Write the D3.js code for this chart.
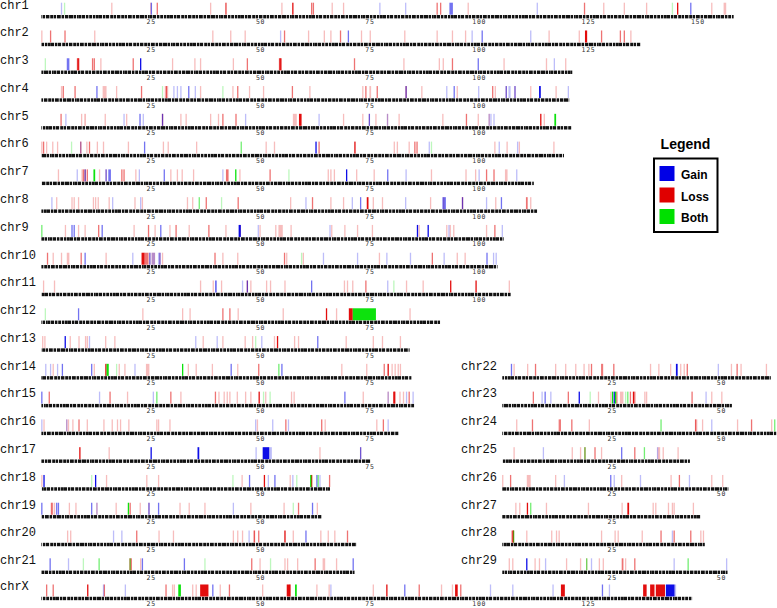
<!DOCTYPE html>
<html>
<head>
<meta charset="utf-8">
<script src="https://cdn.jsdelivr.net/npm/d3@7"></script>
<style>
  body { margin: 0; background: #fff; }
  svg { display: block; }
</style>
</head>
<body>
<div id="chart"></div>
<script>
// chromosome names and lengths (Mb)
const chromNames = ["chr1","chr2","chr3","chr4","chr5","chr6","chr7","chr8","chr9","chr10",
  "chr11","chr12","chr13","chr14","chr15","chr16","chr17","chr18","chr19","chr20","chr21",
  "chr22","chr23","chr24","chr25","chr26","chr27","chr28","chr29","chrX"];
const chromLengths = [158.3,137.0,121.4,120.7,121.2,119.5,112.6,113.4,105.7,104.3,
  107.3,91.2,84.2,84.6,85.3,81.7,75.2,66.0,64.1,72.0,71.6,
  61.4,52.5,62.7,42.9,51.7,45.4,46.3,51.5,148.8];

// CNV calls, "start[-end]:level" in Mb, level = how many calls overlap (1 light .. 3 dark)
const gainMarks = [
  ["chr1","4.6:1 25.0-25.3:2 77.4:1 83.3:1 93.3-94.1:2 113.4:1 148.5:2"],
  ["chr2","54.7:1 70.2:2 98.5:1 100.8:2 111.9:1"],
  ["chr3","5.8-6.4:2 22.7:3 99.9:2 117.3:1"],
  ["chr4","12.7:2 30.3:1 31.1:1 31.9:1 33.7:2 35.2:1 83.4:2 92.7:1 94.4:2 100.0:1 106.3:2 106.8-107.3:1 108.3:2 113.8-114.2:3 120.5:1"],
  ["chr5","5.6:1 18.9:1 22.4-22.7:2 23.3:1 27.7:2 46.7:1 63.5:1 75.0:2 79.0-79.3:1 102.4:1 102.8:1 103.5:1"],
  ["chr6","9.0:1 23.6:2 62.8:3 88.7:1 104.7:1 108.9:1"],
  ["chr7","8.2:1 10.0:2 14.8:2 15.3-15.9:2 22.4:1 28.1:2 41.5:1 69.8:3 79.2:2 83.4:1 100.1:1 108.7:1"],
  ["chr8","2.4:1 16.3:1 22.7:1 60.5:1 71.1:1 73.0:2 83.3:1 91.7-92.5:2 96.3:2 101.8:1 105.2:2"],
  ["chr9","7.0:2 7.5:2 13.9:2 27.3:2 45.1-45.6:3 49.6:1 66.0:1 86.0:3 88.3-88.6:3 93.2:1 105.4:1"],
  ["chr10","10.0:2 20.9:1 24.8:2 25.2-26.0:1 26.8:1 27.1:2 64.5:1 72.3:1 79.0:1 84.4:1 92.1:1 101.9:2 103.4:1 104.0:1"],
  ["chr11","39.7-40.1:2 46.0:1 47.1:2 61.8:2 79.2:1"],
  ["chr12","8.5:2"],
  ["chr13","5.3-5.6:3 11.0:1 35.3:1 40.2:1 50.4:1 63.2:2"],
  ["chr14","1.0:1 2.1:1 3.7:1 4.8:2 11.5:2 21.4:1 43.4:2 55.0:2"],
  ["chr15","0.1:2 13.3:1 25.6:1 69.4:2 79.3:1 83.5:1 85.0:1"],
  ["chr16","0.1:1 5.8:1 49.0:1 52.9:1 56.5:1 79.3:1"],
  ["chr17","25.1:3 35.7-36.1:3 49.1:1 50.6-52.1:3 52.1-52.7:1 73.0:2"],
  ["chr18","0.6:3 12.4:3 47.6:2 51.9:1 53.4:2 57.5:1 63.0:2 63.7:1"],
  ["chr19","0.1:2 3.5:2 3.9:2 11.5:2 12.7:1 24.6:2 26.8:2 43.9:1 62.0:2"],
  ["chr20","16.5:1 18.4:1 47.5:1 60.5:2"],
  ["chr21","2.0:2 6.2:1 23.1:2 32.7:2 71.3:2"],
  ["chr22","2.1:2 39.7-40.1:3 49.4:1"],
  ["chr23","9.1:1 9.8:2 11.1:1 17.6:3 25.6:3 46.6:1"],
  ["chr24","47.9:1"],
  ["chr25","9.4:1 27.3:2 35.5:1"],
  ["chr26","14.2:1 24.8:2 25.6:1 31.6:1 42.8:1"],
  ["chr28","38.9:1"],
  ["chr29","5.6-5.8:3 9.9:1 20.4:1 39.3:1 51.3:1"],
  ["chrX","14.2:1 19.2:1 39.2:2 66.2:1 83.1:2 102.7:1 107.8:1 117.0:1 128.3:2 129.9:1 142.8-144.8:3 145.0:1"]
];

const lossMarks = [
  ["chr1","16.1:1 25.0:1 26.5:2 38.7:1 42.0-42.4:2 55.0:1 57.5:3 61.8:2 62.2:2 66.5:1 69.1:1 90.5:2 91.3:2 97.6:1 124.2:2 128.6:1 133.3:1 138.4:1 145.5:3 153.3:1 156.0-156.6:1"],
  ["chr2","0.1:1 2.1:2 5.4:2 12.2:1 39.2:1 43.3:1 46.6:1 55.6:2 61.1:1 64.7:1 66.2:1 68.4:2 73.2:1 75.2:1 83.1:1 90.5:1 94.0:1 97.0:1 116.1:1 123.0:1 124.3-124.8:3 128.1:2 132.4:2 133.3:2 134.8:1"],
  ["chr3","8.1-8.7:2 8.4:3 11.7:2 12.1:2 13.6:1 21.0:2 30.0:1 35.1:1 36.4:1 43.9:1 47.1:2 54.3-55.0:2 54.6:3 71.6:2 82.9:1 91.0:1 91.9:1 94.0:2 105.8:1 115.5:1 119.9:1"],
  ["chr4","4.6:1 5.0:2 7.7:2 14.0-14.9:1 17.2:1 22.9:2 28.2-29.0:1 28.6:2 36.4:1 43.8:1 44.9:2 47.6:1 50.8:1 57.4:2 61.4:1 73.5:1 74.2:2 75.0-75.4:1 76.8:2 83.4:2 87.0:1 95.1:1 103.2:2 103.8:1 106.3:1 108.3:1 111.9:1 117.7:1"],
  ["chr5","4.5:2 9.2:1 9.8-10.2:1 14.6:1 19.5:1 27.7:2 31.9:1 33.1:1 38.7:1 40.5:1 41.5:2 44.5:2 57.5-58.4:1 58.9-59.5:3 69.1:1 73.5:1 75.0:1 76.5:1 79.0-79.3:1 81.8:1 91.8:1 97.2:2 99.9:1 102.4:1 114.2:3 115.0:1"],
  ["chr6","0.1:1 0.5:2 1.2:1 2.6:1 3.7:1 9.0:2 10.4:1 11.0:2 12.8:1 14.2:1 19.9:1 27.9:1 29.0:1 35.5:1 51.4:1 53.3:1 63.5:2 71.7:3 80.7:1 81.4:1 84.1:1 85.4:2 85.9:2 103.7:1 106.5:1 109.3:1 117.2:1"],
  ["chr7","3.9:1 9.3:1 9.6:2 10.0:2 10.5:2 13.3:1 14.8:1 18.4:2 18.9:2 21.6:1 29.6:1 31.1:1 32.2:1 34.8:1 42.2-42.8:2 45.4:1 52.3:2 65.6:1 66.2:1 67.0:1 72.1:1 76.1:1 89.2:1 97.1:1 99.3:1 101.8-102.0:2 103.5:2 106.0-106.6:1"],
  ["chr8","3.5:1 7.0:1 7.5:1 8.5:1 11.9:1 12.4:1 13.0:1 15.5:1 21.4:1 23.1:1 33.4:1 34.6:1 37.7:2 45.0:2 57.0:1 62.0:2 66.2:1 69.1:1 74.4-74.8:3 75.9:1 78.0:1 89.0:1 92.0:1 96.3:2 103.9:1 110.8-111.2:2 111.9:1"],
  ["chr9","5.5:1 8.5:1 10.0:1 13.1:2 21.2:1 24.5:2 26.0:1 29.4:1 30.8:2 33.8:1 38.3:2 42.2:1 45.4:2 50.0:1 53.6:1 54.2-55.2:1 57.1:1 66.4:1 69.4:1 72.3:1 75.7:1 86.4:1 92.7:1 93.5:1 94.3:1 101.8:1 103.7:2"],
  ["chr10","1.4:2 2.7:1 4.6:1 5.8-6.4:1 9.1:2 14.8:1 22.9-23.6:3 23.6-24.5:2 24.8:1 25.2-26.0:1 27.1:1 27.7:1 39.7:2 41.5:1 44.9:1 55.6:2 56.1:1 59.9:1 77.3:1 89.4:2 95.1:1 96.9:1"],
  ["chr11","0.5:1 3.0:1 36.4:1 39.3:1 41.2:1 47.1:2 47.9:1 51.5:1 52.4:1 55.7:1 69.3:1 70.0:1 71.2:1 74.2:2 83.5:1 87.3:1 93.6-93.8:3 99.4:3 107.0:1"],
  ["chr12","23.2:1 32.3:1 34.0:1 41.5:2 43.1:2 45.0:1 55.3:1 65.2:3 67.5:1 70.3-71.2:3 84.3:1"],
  ["chr13","0.3:1 0.8:1 6.6:1 8.6:1 10.1:1 10.5:1 14.7:1 16.8:1 37.0:1 41.5:1 46.6:1 48.3:1 53.3:1 54.0:3 57.9:1 58.8:1 69.7:1 75.9:1 78.0:1 82.1:1"],
  ["chr14","2.7:1 12.1:1 14.6-14.9:3 17.8:1 19.1:1 23.9-24.7:1 33.6:1 35.4:1 39.1:1 44.9:1 49.7:2 68.7:1 74.4:1 78.4:2 79.3:3 80.2:1 80.9:1 81.6:1 82.1:1"],
  ["chr15","1.8:2 15.7:2 19.7:1 29.6:2 31.9:1 39.8:2 40.6:1 41.8:1 42.5:1 43.1:1 44.8:1 46.7:1 47.9:1 49.8:3 51.3:1 57.2:1 57.8:1 73.6:1 79.3:1 80.6:3 80.8:3 82.0:1 82.8:1 84.1:2"],
  ["chr16","0.6:1 5.8:1 6.2:1 7.2:1 8.6:2 10.5:1 14.3:1 16.2:1 17.4:1 18.1:1 20.0:1 26.4:1 26.8:1 29.4:1 49.4:1 55.9:2 64.1:2 64.9:1 76.7:1 78.2:2"],
  ["chr17","8.8:3 15.5:1 63.7:1 73.0:1"],
  ["chr18","0.1:1 14.9:1 24.1:1 26.8:1 45.9:1 51.0:3 56.9:1 61.8:3 65.9:2"],
  ["chr19","2.1-2.7:1 2.4:2 3.0:1 6.4:1 7.9:1 12.7:1 17.1:1 20.3:2 22.6:1 24.6:1 31.7:1 33.8:1 37.4:1 47.9:1 55.5:1 58.8:2 63.1:1"],
  ["chr20","6.0:1 6.7:1 21.8:2 26.9:1 30.2:1 43.9:1 44.9:1 46.0:1 48.5-48.9:1 48.7:2 49.7:2 55.7:3 57.6:1 63.9:1 65.6:1 67.1:1 70.0:2"],
  ["chr21","20.1-20.7:2 22.7:1 48.1:2 50.0:1 55.7:1 56.3:1 58.6:1 62.6:2 64.3-64.9:1 67.5:1"],
  ["chr22","2.7:1 5.8:1 7.6:2 12.2:1 14.5:1 16.8:1 18.7:1 19.8:1 20.4:2 22.6-23.1:1 22.8:2 25.5:2 33.9:1 35.8:1 38.5:1 40.8:1 41.6:1 42.3:2 52.4:1 53.7:2 54.6:1 60.4:1"],
  ["chr23","7.1:2 15.1:2 22.0:1 24.8:1 26.2:2 26.9-27.7:1 29.3:2 30.0:3 30.3:2 32.6:1 33.0:1 43.4:2 47.9:1 50.2:1"],
  ["chr24","3.3:1 6.9:2 12.8-13.4:1 13.2:2 15.9:2 19.9:1 44.1-44.6:1 44.2:2 45.8:1 53.8:1 57.0:2 61.6:1"],
  ["chr25","2.7:1 16.0:1 17.9:1 18.9:2 21.2:2 22.7:1 30.3:2 35.5-36.1:1 36.8:1 40.2:1"],
  ["chr26","0.1:1 1.9:2 5.6-6.5:1 12.2:1 27.3:1 38.6:1 40.5:2 47.9:1 50.4:1"],
  ["chr27","3.1:1 4.0:1 5.6-5.9:3 10.1:1 19.7:1 27.4:1 28.6-29.0:3 34.5:1 35.1:1 38.0:1 38.9:1 39.3:1 43.7:1"],
  ["chr28","2.1-2.7:2 2.5:3 5.6:1 11.3:1 12.4:1 13.0:1 22.7:1 25.8:1 26.5:1 32.0:1 36.3:2 39.3:2 43.1:2 45.4:1 46.0:1"],
  ["chr29","1.6:1 2.4:1 7.5:1 8.5:1 14.7:1 17.9:1 19.3:1 22.2:1 23.1:1 27.3-27.7:2 28.2:1 30.3:2"],
  ["chrX","1.2:2 2.7:2 10.6:3 14.4:2 28.5:2 30.0:1 30.4:1 34.6:1 35.4:1 36.3-38.2:3 40.9:1 43.0:2 50.6:1 56.1-56.9:3 56.9:2 63.0:1 65.8:1 75.9:1 79.0:3 86.4:2 91.5:1 94.0:1 94.6-95.2:3 95.9:2 118.8-119.7:3 137.6-138.4:3 139.2-140.2:3 140.5-142.6:3"]
];

const bothMarks = [
  ["chr1","5.3:1 144.3:1"],
  ["chr3","0.9:1"],
  ["chr4","27.7:1 41.5:1"],
  ["chr5","117.3-117.7:3"],
  ["chr6","6.9:1 45.7:2 89.2:1"],
  ["chr7","11.9-12.3:3 44.3-44.6:3 56.6:1"],
  ["chr8","36.1:2 41.2:1"],
  ["chr9","0.1:2"],
  ["chr10","59.5:1"],
  ["chr11","80.6:1"],
  ["chr12","0.9:1 71.2-76.5:3"],
  ["chr13","49.0:1"],
  ["chr14","14.9-15.4:3 17.2:1 32.3:3 54.3:2"],
  ["chr15","26.4:2 50.8:1 52.3:1"],
  ["chr18","11.5:1 43.8:1 58.4:1 61.6:3 63.3:2"],
  ["chr19","19.9-20.1:3 57.6:1"],
  ["chr21","9.6:1 13.2:2 20.3:2 37.4:1 52.4:1"],
  ["chr23","20.1:1 25.2:3 25.9:3 28.2:1 28.7:2"],
  ["chr24","36.3:2 62.3:2"],
  ["chr25","18.9:2 32.5:2"],
  ["chr27","6.5:2"],
  ["chr28","2.6:2"],
  ["chr29","19.3:2 42.5:2"],
  ["chrX","31.3-31.9:3 58.0-58.4:3"]
];

const legendLabels = ["Gain", "Loss", "Both"];
const tickStep = 25;

// ---- styles / layout ----
const typeColors = { Gain: "#0000e6", Loss: "#e00000", Both: "#00e000" };
const levelOpacity = { 1: 0.26, 2: 0.55, 3: 0.95 };
// hand-drawn banding texture for the ideograms (0 dark .. 3 light)
const bandTexture = "00200301002000300210030020010003002000310020030002100200300012003000200";
const bandShades = ["#111", "#444", "#999", "#ddd"];

const width = 777, height = 608;
const pxPerMb = 4.373;
const rowPitch = 27.78;
const firstBarTop = 15;
const barHeight = 3.4;
const colX0 = [41.4, 502.3];
const labelX = [0, 461];

function parseMarks(list, type) {
  const out = [];
  list.forEach(([chrom, str]) => {
    str.split(" ").forEach(tok => {
      const [range, lvl] = tok.split(":");
      const [s, e] = range.split("-").map(Number);
      out.push({ chrom, type, start: s, end: e === undefined ? s : e, level: +lvl });
    });
  });
  return out;
}

const allMarks = [
  ...parseMarks(lossMarks, "Loss"),
  ...parseMarks(gainMarks, "Gain"),
  ...parseMarks(bothMarks, "Both")
];

// row slot for each chromosome: chr1-21 left, chr22-29 right, chrX last on the left
function placement(i) {
  if (i <= 20) return { col: 0, row: i, nudge: 0 };
  if (i === 29) return { col: 0, row: 21, nudge: -1.6 };
  return { col: 1, row: i - 8, nudge: 0 };
}

const svg = d3.select("#chart")
  .append("svg")
  .attr("width", width)
  .attr("height", height)
  .style("background", "#fff");

const defs = svg.append("defs");

chromNames.forEach((name, i) => {
  const { col, row, nudge } = placement(i);
  const barTop = firstBarTop + row * rowPitch + nudge;
  const len = chromLengths[i];
  const x = d3.scaleLinear()
    .domain([0, len])
    .range([colX0[col], colX0[col] + len * pxPerMb]);

  // band pattern, shifted per chromosome so rows don't line up
  const pat = defs.append("pattern")
    .attr("id", `band-${i}`)
    .attr("patternUnits", "userSpaceOnUse")
    .attr("width", bandTexture.length)
    .attr("height", barHeight + 2)
    .attr("patternTransform", `translate(${(i * 23) % bandTexture.length},${barTop})`);
  bandTexture.split("").forEach((c, k) => {
    pat.append("rect")
      .attr("x", k)
      .attr("y", 0)
      .attr("width", 1)
      .attr("height", barHeight + 2)
      .attr("fill", bandShades[+c]);
  });

  const g = svg.append("g").attr("class", "chrom");

  g.append("text")
    .attr("x", labelX[col])
    .attr("y", barTop - 6.5)
    .style("font-family", "'Liberation Mono', 'DejaVu Sans Mono', monospace")
    .style("font-size", "12px")
    .style("fill", "#111")
    .text(name);

  g.append("rect")
    .attr("x", x(0))
    .attr("y", barTop)
    .attr("width", x(len) - x(0))
    .attr("height", barHeight)
    .attr("fill", `url(#band-${i})`);

  const axis = g.append("g")
    .attr("transform", `translate(0,${barTop + barHeight})`)
    .call(d3.axisBottom(x)
      .tickValues(d3.range(tickStep, len, tickStep))
      .tickSize(0)
      .tickPadding(1.2)
      .tickFormat(d3.format("d")));
  axis.select(".domain").remove();
  axis.selectAll(".tick text")
    .attr("fill", "#333")
    .style("font-family", "'DejaVu Sans Mono', monospace")
    .style("font-size", "6.5px")
    .style("letter-spacing", "0.7px");

  g.selectAll("rect.mark")
    .data(allMarks.filter(m => m.chrom === name))
    .enter()
    .append("rect")
    .attr("class", "mark")
    .attr("x", d => {
      const w = x(d.end) - x(d.start);
      return w < 1.3 ? x(d.start) - 0.65 : x(d.start);
    })
    .attr("y", barTop - 12.3)
    .attr("width", d => Math.max(1.3, x(d.end) - x(d.start)))
    .attr("height", 12)
    .attr("fill", d => typeColors[d.type])
    .attr("fill-opacity", d => levelOpacity[d.level]);
});

// legend
const legend = svg.append("g").attr("class", "legend");
legend.append("text")
  .attr("x", 685.5)
  .attr("y", 149)
  .attr("text-anchor", "middle")
  .style("font-family", "'Liberation Sans', Arial, sans-serif")
  .style("font-weight", "bold")
  .style("font-size", "14px")
  .text("Legend");

legend.append("rect")
  .attr("x", 654)
  .attr("y", 158.5)
  .attr("width", 63.5)
  .attr("height", 73.5)
  .attr("fill", "#fff")
  .attr("stroke", "#000")
  .attr("stroke-width", 2);

const items = legend.selectAll("g.item")
  .data(legendLabels)
  .enter()
  .append("g")
  .attr("class", "item")
  .attr("transform", (d, i) => `translate(659.5,${166 + i * 21.5})`);

items.append("rect")
  .attr("width", 15)
  .attr("height", 15)
  .attr("fill", d => typeColors[d]);

items.append("text")
  .attr("x", 21.5)
  .attr("y", 13)
  .style("font-family", "'Liberation Sans', Arial, sans-serif")
  .style("font-weight", "bold")
  .style("font-size", "12px")
  .text(d => d);
</script>
</body>
</html>
